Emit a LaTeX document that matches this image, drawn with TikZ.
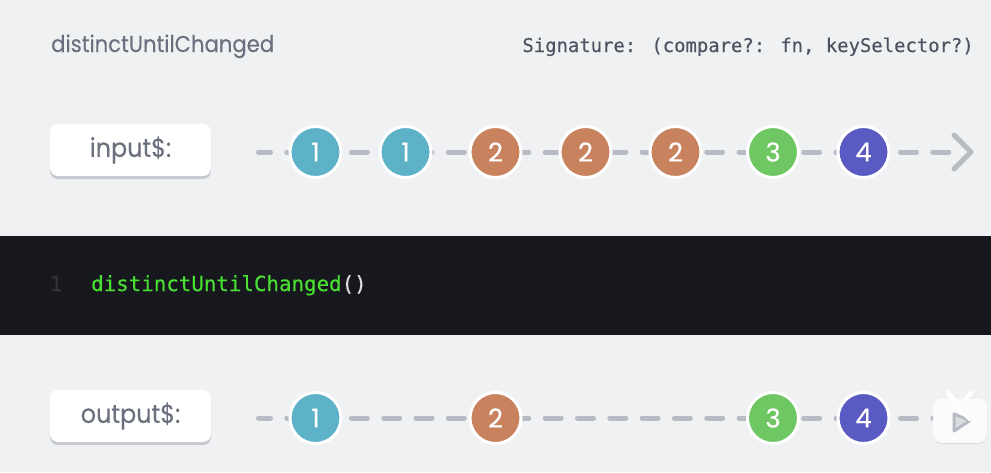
\documentclass[tikz,border=0pt]{standalone}
\usepackage{fontspec}
\setmainfont{Poppins}
\newfontfamily\codefont{DejaVu Sans Mono}[FakeBold=0.3]
\newfontfamily\headfont{Poppins}[FakeStretch=0.92,FakeBold=0.15]
\newfontfamily\digitfont{Poppins}[FakeBold=0.25]
\usetikzlibrary{shadows}
\definecolor{bgpage}{HTML}{F0F1F3}
\definecolor{band}{HTML}{16181D}
\definecolor{inkgray}{HTML}{6A707D}
\definecolor{signgray}{HTML}{4C5462}
\definecolor{flowgray}{HTML}{B8BBC4}
\definecolor{shadowgray}{HTML}{C6C8D0}
\definecolor{teal}{HTML}{5EB2C8}
\definecolor{clay}{HTML}{C8825E}
\definecolor{leaf}{HTML}{6FC763}
\definecolor{violet}{HTML}{5A5AC3}
\definecolor{codegreen}{HTML}{4ADF33}
\begin{document}
\begin{tikzpicture}[x=1pt,y=-1pt]
\tikzstyle{flow}= [flowgray,line width=5pt,line cap=round,dash pattern=on 16pt off 16.3pt]
\tikzstyle{chev}= [flowgray,line width=5pt,line cap=round,line join=round]
\tikzstyle{lbl}= [rectangle,fill=white,rounded corners=8pt,minimum width=161pt,minimum height=52pt,inner sep=0pt,text=inkgray,font=\headfont\fontsize{26}{30}\selectfont,drop shadow={shadow xshift=0pt,shadow yshift=-3pt,fill=shadowgray,opacity=1}]
\tikzstyle{ball}= [circle,draw=white,line width=3pt,minimum size=51pt,inner sep=0pt,text=white,font=\digitfont\fontsize{26}{30}\selectfont,drop shadow={shadow xshift=0pt,shadow yshift=-1pt,fill=shadowgray,opacity=1}]
\useasboundingbox (0,0) rectangle (991,472);
\fill[bgpage] (0,0) rectangle (991,472);
\fill[band] (0,236) rectangle (991,335);
\path
	(51,52) node[anchor=base west,inner sep=0pt,text=inkgray,font=\headfont\fontsize{23}{28}\selectfont] (title) {distinctUntilChanged}
	(974,52) node[anchor=base east,inner sep=0pt,text=signgray,font=\codefont\fontsize{18.9}{24}\selectfont] (sign) {Signature: (compare?: fn, keySelector?)}
	(130.5,150) node[lbl] (input) {input\$:}
	(130.5,416) node[lbl] (output) {output\$:}
	(56,291) node[anchor=base,text=white!12!band,font=\codefont\fontsize{20.8}{24}\selectfont] (lineno) {1}
	(91,291) node[anchor=base west,inner sep=0pt,font=\codefont\fontsize{20.8}{24}\selectfont] (code) {\textcolor{codegreen}{distinctUntilChanged}\textcolor{white!85!band}{()}}
;
% input row
\coordinate (instart) at (258.5,152);
\coordinate (inend) at (955,152);
\coordinate (intop) at (954,135);
\coordinate (intip) at (971,152);
\coordinate (inbot) at (954,169);
\draw[flow,dash phase=4pt] (instart) -- (inend);
\draw[chev] (intop) -- (intip) -- (inbot);
\path
	(315.5,152) node[ball,fill=teal] (a) {1}
	(405.5,152) node[ball,fill=teal] (b) {1}
	(495.5,152) node[ball,fill=clay] (c) {2}
	(585.5,152) node[ball,fill=clay] (d) {2}
	(675.5,152) node[ball,fill=clay] (e) {2}
	(773,152) node[ball,fill=leaf] (f) {3}
	(863.5,152) node[ball,fill=violet] (g) {4}
;
% output row
\coordinate (outstart) at (258.5,418);
\coordinate (outend) at (950,418);
\draw[flow,dash phase=4pt] (outstart) -- (outend);
\path
	(315.5,418) node[ball,fill=teal] (p) {1}
	(495.5,418) node[ball,fill=clay] (q) {2}
	(773,418) node[ball,fill=leaf] (r) {3}
	(863.5,418) node[ball,fill=violet] (s) {4}
;
% tv mark
\draw[white,line width=4.5pt,line cap=round] (948,393) -- (956,402);
\draw[white,line width=4.5pt,line cap=round] (971,393) -- (963,402);
\fill[shadowgray!60!bgpage,rounded corners=9pt] (933,401) rectangle (987,444);
\fill[white,opacity=.92,rounded corners=9pt] (933,399) rectangle (987,443);
\draw[flowgray,fill=white!50!flowgray,line width=3pt,line join=round] (954,414) -- (970,420.5) -- (954,431) -- cycle;
\draw[white,line width=3pt,line cap=round] (951,401) -- (970,420);
\end{tikzpicture}
\end{document}
